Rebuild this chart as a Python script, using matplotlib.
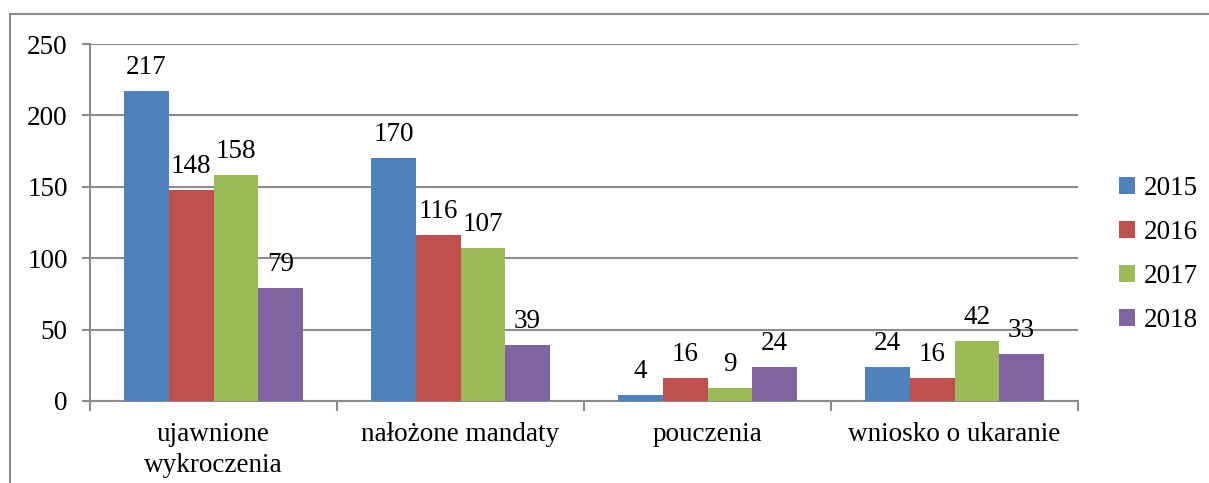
import matplotlib
matplotlib.use("Agg")
import matplotlib.pyplot as plt
import numpy as np
from matplotlib.patches import Rectangle

categories = ["ujawnione\nwykroczenia", "nałożone mandaty", "pouczenia", "wniosko o ukaranie"]
years = ["2015", "2016", "2017", "2018"]
v2015 = [217, 170, 4, 24]
v2016 = [148, 116, 16, 16]
v2017 = [158, 107, 9, 42]
v2018 = [79, 39, 24, 33]
colors = ["#4F81BD", "#C0504D", "#9BBB59", "#8064A2"]

plt.rcParams['font.family'] = ['Liberation Serif', 'DejaVu Serif']
FS = 19.5
GRAY = "#8c8c8c"

fig = plt.figure(figsize=(12.09, 4.83), dpi=100)
ax = fig.add_axes([90 / 1209, 1 - 401 / 483, (1078 - 90) / 1209, (401 - 44) / 483])

# chart border (outer frame, partially cropped in the original)
fig.patches.append(Rectangle((10 / 1209, -0.1), 1.2, 1 - 14 / 483 + 0.1,
                             transform=fig.transFigure, fill=False,
                             edgecolor=GRAY, lw=1.5))

x = np.arange(len(categories))
w = 0.181
series = [v2015, v2016, v2017, v2018]
for i, (vals, c, yr) in enumerate(zip(series, colors, years)):
    pos = x + (i - 1.5) * w
    ax.bar(pos, vals, width=w, color=c, label=yr, zorder=3)
    for p, v in zip(pos, vals):
        ax.annotate(str(v), (p, v), xytext=(0, 8), textcoords="offset points",
                    ha="center", va="bottom", fontsize=FS, zorder=4)

ax.set_xlim(-0.5, len(categories) - 0.5)
ax.set_ylim(0, 250)
ax.set_yticks(range(0, 251, 50))
ax.yaxis.grid(True, color=GRAY, lw=1.5, zorder=0)
ax.tick_params(axis="y", labelsize=FS, length=6, width=1.5, color=GRAY, pad=10)

ax.set_xticks(np.arange(len(categories) + 1) - 0.5, minor=False)
ax.set_xticklabels([])
ax.tick_params(axis="x", which="major", length=7, width=1.5, color=GRAY)
ax.set_xticks(x, minor=True)
ax.set_xticklabels(categories, minor=True, fontsize=FS, linespacing=1.3)
ax.tick_params(axis="x", which="minor", length=0, pad=15)

for s in ["top", "right"]:
    ax.spines[s].set_visible(False)
for s in ["left", "bottom"]:
    ax.spines[s].set_color(GRAY)
    ax.spines[s].set_linewidth(1.5)

ax.legend(loc="center left", bbox_to_anchor=(1.017, 0.41), frameon=False,
          fontsize=FS, handlelength=0.6, handleheight=0.6, handletextpad=0.3,
          labelspacing=0.7)

fig.savefig("out.png", dpi=100)
